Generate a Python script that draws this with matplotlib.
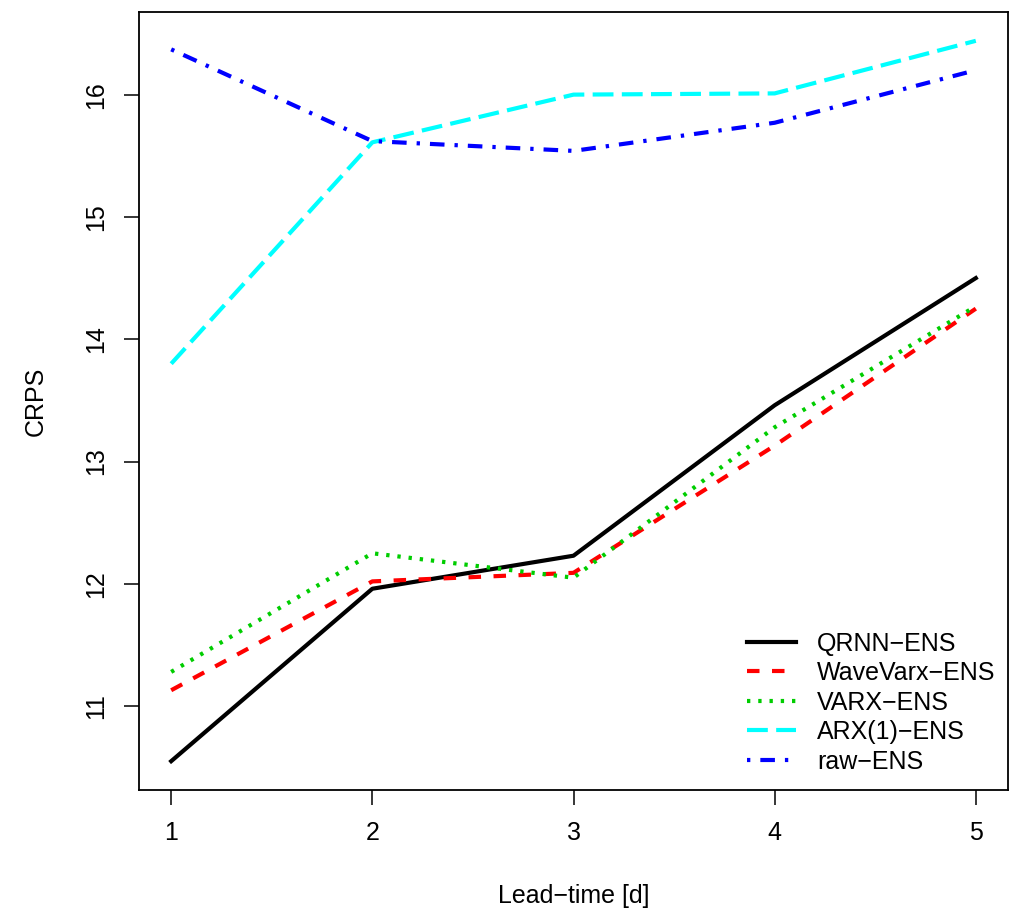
import matplotlib
matplotlib.use('Agg')
import matplotlib.pyplot as plt

plt.rcParams['font.family'] = ['Liberation Sans', 'DejaVu Sans']

lead_time = [1, 2, 3, 4, 5]
qrnn_ens = [10.55, 11.96, 12.23, 13.46, 14.50]
wavevarx_ens = [11.13, 12.02, 12.09, 13.13, 14.25]
varx_ens = [11.28, 12.25, 12.05, 13.28, 14.27]
arx1_ens = [13.80, 15.61, 16.00, 16.01, 16.44]
raw_ens = [16.37, 15.62, 15.54, 15.77, 16.20]

labels = ['QRNN\u2212ENS', 'WaveVarx\u2212ENS', 'VARX\u2212ENS', 'ARX(1)\u2212ENS', 'raw\u2212ENS']

fig = plt.figure(figsize=(10.24, 9.22), dpi=100)
ax = fig.add_axes([139 / 1024, 1 - 790 / 922, 869 / 1024, 778 / 922])

lw = 3
ax.plot(lead_time, qrnn_ens, color='black', lw=lw, label=labels[0])
ax.plot(lead_time, wavevarx_ens, color='#FF0000', lw=lw, dashes=(3, 3), label=labels[1])
ax.plot(lead_time, varx_ens, color='#00CD00', lw=lw, dashes=(0.8, 1.9), label=labels[2])
ax.plot(lead_time, arx1_ens, color='#00FFFF', lw=lw, dashes=(5, 2), label=labels[3])
ax.plot(lead_time, raw_ens, color='#0000FF', lw=lw, dashes=(0.8, 2.4, 3.5, 2.4), label=labels[4])

# R style axis limits (4% extension)
ymin = min(qrnn_ens + wavevarx_ens + varx_ens + arx1_ens + raw_ens)
ymax = max(qrnn_ens + wavevarx_ens + varx_ens + arx1_ens + raw_ens)
ax.set_xlim(1 - 0.04 * 4, 5 + 0.04 * 4)
ax.set_ylim(ymin - 0.04 * (ymax - ymin), ymax + 0.04 * (ymax - ymin))

ax.set_xticks(lead_time)
ax.set_yticks([11, 12, 13, 14, 15, 16])
ax.tick_params(axis='both', direction='out', length=10.5, width=1.1, labelsize=18, pad=12)
for lab in ax.get_yticklabels():
    lab.set_rotation(90)
    lab.set_va('center')
for sp in ax.spines.values():
    sp.set_linewidth(1.3)

ax.set_xlabel('Lead\u2212time [d]', fontsize=18, labelpad=28)
ax.set_ylabel('CRPS', fontsize=18, labelpad=26)

ax.legend(loc='upper left', bbox_to_anchor=(0.70, 0.2035), frameon=False, fontsize=18,
          handlelength=1.96, handletextpad=0.84, labelspacing=0.22, borderpad=0, borderaxespad=0)

fig.savefig('out.png', dpi=100)
